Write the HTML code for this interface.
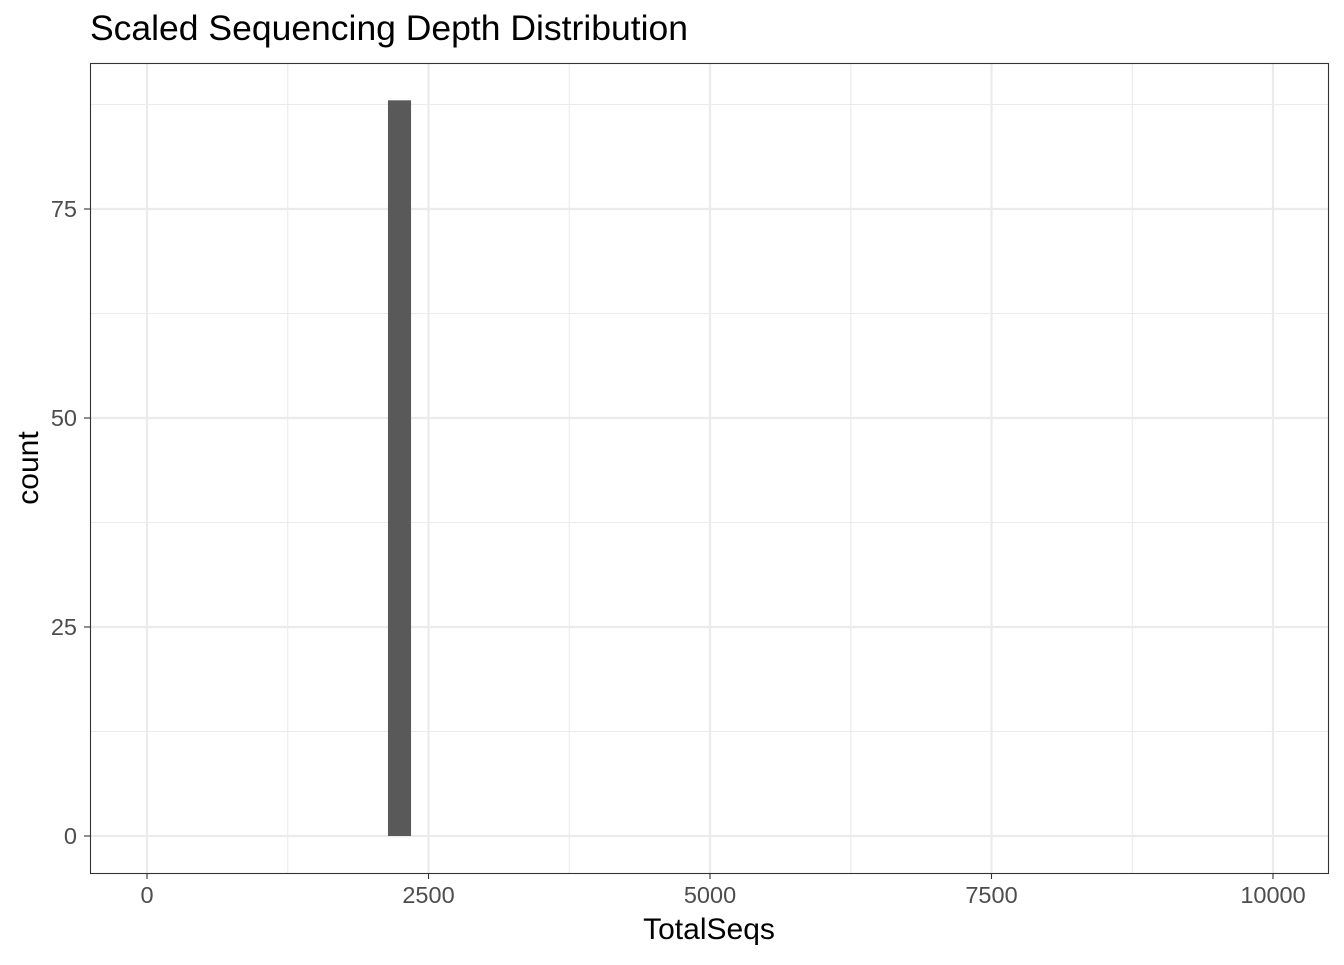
<!DOCTYPE html>
<html><head><meta charset="utf-8"><style>
body{margin:0;background:#fff;font-family:"Liberation Sans",sans-serif;}
</style></head><body>
<svg id="chart" width="1344" height="960" xmlns="http://www.w3.org/2000/svg">
<text x="90" y="40" font-size="35.5" fill="#000">Scaled Sequencing Depth Distribution</text>
<g id="grid"></g>
<g id="bars"></g>
<rect x="90.5" y="63.5" width="1238" height="810" fill="none" stroke="#333" stroke-width="1.1"/>
<g id="axes"></g>
<text x="709" y="939" font-size="30" text-anchor="middle">TotalSeqs</text>
<text transform="translate(38,468) rotate(-90)" font-size="30" text-anchor="middle">count</text>
</svg>
<script>
const binStarts=[2140];
const binEnds=[2345];
const counts=[88];
const xTicks=[0,2500,5000,7500,10000];
const yTicks=[0,25,50,75];
const ns="http://www.w3.org/2000/svg";
const X=v=>147+v*0.1126;
const Y=v=>836-v*8.36;
function mk(tag,attrs,parent){const e=document.createElementNS(ns,tag);for(const k in attrs)e.setAttribute(k,attrs[k]);document.getElementById(parent).appendChild(e);return e;}
for(let i=0;i<xTicks.length;i++){
 if(i<xTicks.length-1){const m=(xTicks[i]+xTicks[i+1])/2;const l=mk('line',{x1:X(m),x2:X(m),y1:64,y2:873,stroke:'#ebebeb','stroke-width':1.1},'grid');
 
 }
 const g=mk('line',{x1:X(xTicks[i]),x2:X(xTicks[i]),y1:64,y2:873,stroke:'#ebebeb','stroke-width':2.2},'grid');
 
 
 const t=mk('line',{x1:X(xTicks[i]),x2:X(xTicks[i]),y1:873,y2:879,stroke:'#333','stroke-width':1.1},'axes');
 
 
 const tx=mk('text',{x:X(xTicks[i]),y:903,'font-size':23.5,fill:'#4d4d4d','text-anchor':'middle'},'axes');
 tx.textContent=xTicks[i];
 
 
}
for(let i=0;i<yTicks.length;i++){
 const m=yTicks[i]+12.5;const l=mk('line',{x1:91,x2:1328,y1:Y(m),y2:Y(m),stroke:'#ebebeb','stroke-width':1.1},'grid');
 
 
 const g=mk('line',{x1:91,x2:1328,y1:Y(yTicks[i]),y2:Y(yTicks[i]),stroke:'#ebebeb','stroke-width':2.2},'grid');
 
 
 const t=mk('line',{x1:84,x2:90,y1:Y(yTicks[i]),y2:Y(yTicks[i]),stroke:'#333','stroke-width':1.1},'axes');
 
 
 const tx=mk('text',{x:77,y:Y(yTicks[i])+8,'font-size':23.5,fill:'#4d4d4d','text-anchor':'end'},'axes');
 tx.textContent=yTicks[i];
 
 
}
for(let i=0;i<counts.length;i++){
 const b=mk('rect',{x:X(binStarts[i]),y:Y(counts[i]),width:X(binEnds[i])-X(binStarts[i]),height:Y(0)-Y(counts[i]),fill:'#595959'},'bars');
 
 
}
</script>
</body></html>
